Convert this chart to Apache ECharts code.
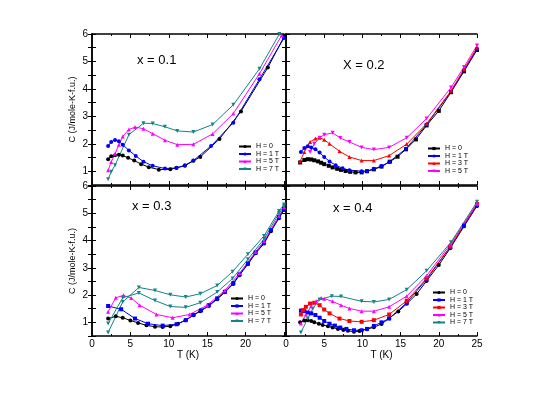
<!DOCTYPE html>
<html>
<head>
<meta charset="utf-8">
<script src="https://cdn.jsdelivr.net/npm/echarts@6/dist/echarts.min.js"></script>
<style>
html, body { margin: 0; padding: 0; background: #fff; }
#chart { width: 559px; height: 395px; }
</style>
</head>
<body>
<div id="chart"></div>
<script>
// ======================
// DATA  ([T (K), C (J/mole-K-f.u.)])
// ======================

const panelLabels = ['x = 0.1', 'X = 0.2', 'x = 0.3', 'x = 0.4'];
const xTickLabels = [0, 5, 10, 15, 20, 25];
const yTickLabels = [1, 2, 3, 4, 5, 6];

// x = 0.1
const x1_h0 = [[2.1,1.44],[2.5,1.55],[3.0,1.58],[3.5,1.6],[4.0,1.57],[4.7,1.49],[5.5,1.39],[6.4,1.26],[7.4,1.15],[8.7,1.06],[10.2,1.07],[11.0,1.13],[12.1,1.2],[13.2,1.38],[14.1,1.52],[16.6,2.18],[19.4,3.18],[22.9,4.78],[25.0,5.9]];
const x1_h1 = [[2.1,1.92],[2.5,2.07],[3.0,2.14],[3.5,2.09],[4.0,1.97],[4.8,1.76],[5.7,1.56],[6.7,1.35],[7.9,1.2],[9.5,1.1],[11.0,1.12],[12.1,1.22],[13.2,1.39],[15.5,1.92],[18.4,2.77],[21.8,4.35],[25.0,5.85]];
const x1_h5 = [[2.1,1.04],[2.5,1.34],[3.0,1.64],[3.5,1.97],[4.0,2.27],[4.8,2.52],[5.6,2.61],[6.7,2.55],[7.9,2.37],[9.5,2.13],[11.1,1.97],[13.2,1.98],[15.7,2.36],[18.4,3.1],[21.8,4.55],[24.7,5.95]];
const x1_h7 = [[2.1,0.71],[2.5,0.98],[3.0,1.22],[4.8,2.33],[6.7,2.75],[7.9,2.74],[9.5,2.62],[11.1,2.47],[13.2,2.43],[15.7,2.7],[18.4,3.42],[21.8,4.73],[24.4,6.0]];

// x = 0.2
const x2_h0 = [[1.85,1.32],[2.4,1.41],[2.85,1.44],[3.3,1.43],[3.7,1.4],[4.2,1.36],[4.6,1.31],[5.0,1.26],[5.6,1.2],[6.1,1.14],[6.7,1.09],[7.2,1.05],[7.8,1.01],[8.4,0.98],[9.1,0.96],[9.9,0.96],[10.6,1.0],[11.5,1.07],[12.5,1.17],[13.6,1.35],[14.6,1.53],[15.7,1.8],[17.0,2.16],[18.4,2.67],[20.0,3.2],[21.6,3.88],[23.3,4.64],[25.0,5.42]];
const x2_h1 = [[1.95,1.7],[2.4,1.85],[2.85,1.91],[3.3,1.87],[3.85,1.8],[4.4,1.68],[5.0,1.52],[5.7,1.36],[6.5,1.22],[7.4,1.11],[8.3,1.04],[9.9,1.0],[10.6,1.01],[11.5,1.09],[12.5,1.19],[13.5,1.34],[15.7,1.82],[18.4,2.7],[21.6,3.9],[23.3,4.67],[25.0,5.46]];
const x2_h3 = [[1.85,1.36],[2.4,1.7],[3.15,2.07],[3.85,2.19],[4.4,2.22],[5.0,2.15],[5.7,2.0],[7.0,1.73],[8.3,1.52],[9.9,1.39],[11.5,1.39],[13.5,1.57],[15.8,1.99],[18.4,2.73],[21.6,3.93],[23.3,4.72],[25.0,5.5]];
const x2_h5 = [[3.15,1.7],[3.7,2.0],[4.4,2.22],[5.0,2.33],[6.1,2.4],[7.1,2.21],[8.3,2.07],[9.9,1.87],[11.5,1.79],[13.5,1.87],[15.8,2.22],[18.4,2.92],[21.6,4.05],[23.3,4.8],[25.0,5.58]];

// x = 0.3
const x3_h0 = [[2.1,1.14],[3.1,1.22],[4.0,1.17],[5.0,1.07],[6.0,0.98],[7.1,0.89],[8.2,0.84],[9.2,0.83],[10.2,0.86],[11.2,0.95],[12.2,1.08],[13.2,1.26],[14.1,1.41],[15.2,1.6],[16.3,1.85],[17.3,2.1],[18.4,2.41],[19.2,2.73],[20.3,3.13],[21.3,3.53],[22.4,3.89],[23.3,4.34],[24.35,4.82],[25.0,5.12]];
const x3_h1 = [[2.1,1.6],[3.8,1.48],[5.6,1.14],[7.3,0.95],[9.2,0.88],[11.0,0.93],[12.2,1.08],[13.2,1.27],[14.2,1.44],[15.2,1.63],[16.3,1.88],[17.3,2.12],[18.4,2.44],[19.2,2.76],[20.3,3.16],[21.3,3.56],[22.4,3.92],[23.3,4.38],[24.35,4.86],[25.0,5.16]];
const x3_h5 = [[2.1,1.39],[3.1,1.9],[4.1,1.99],[5.1,1.89],[6.2,1.63],[8.4,1.29],[10.5,1.17],[12.7,1.29],[15.0,1.63],[17.3,2.17],[19.2,2.8],[21.3,3.58],[22.4,3.98],[24.35,4.9],[25.0,5.22]];
const x3_h7 = [[2.1,0.63],[4.0,1.75],[6.1,2.28],[8.2,2.17],[10.2,2.01],[12.2,1.93],[14.1,2.05],[16.3,2.35],[18.3,2.86],[20.3,3.5],[22.4,4.17],[24.35,5.08],[25.0,5.32]];
const x3_h7b = [[2.1,0.96],[4.0,1.9],[6.1,2.08],[8.2,1.8],[10.2,1.58],[12.2,1.55],[14.1,1.72],[16.3,2.11],[18.3,2.61],[20.3,3.31],[22.4,4.06],[24.35,5.0],[25.0,5.26]];

// x = 0.4
const x4_h0 = [[1.85,1.0],[2.4,1.07],[2.85,1.08],[3.3,1.05],[3.7,1.0],[4.3,0.95],[4.8,0.9],[5.5,0.86],[6.1,0.81],[6.8,0.76],[7.5,0.72],[8.1,0.69],[8.9,0.66],[9.6,0.68],[10.6,0.75],[11.5,0.82],[12.5,0.94],[13.5,1.15],[14.7,1.4],[15.8,1.68],[17.1,2.04],[18.4,2.52],[20.0,3.1],[21.5,3.72],[23.3,4.52],[25.0,5.27]];
const x4_h1 = [[1.95,1.43],[2.4,1.41],[2.85,1.36],[3.3,1.33],[3.85,1.27],[4.4,1.17],[5.0,1.05],[5.7,0.95],[6.4,0.88],[7.1,0.81],[7.9,0.76],[8.9,0.71],[9.9,0.71],[10.6,0.76],[11.5,0.87],[12.5,1.0],[13.5,1.14],[15.8,1.72],[18.4,2.58],[21.5,3.76],[23.3,4.55],[25.0,5.3]];
const x4_h3 = [[1.95,1.29],[2.2,1.45],[2.6,1.57],[3.15,1.69],[3.7,1.72],[4.4,1.63],[5.0,1.47],[5.7,1.33],[7.0,1.14],[8.3,1.05],[9.9,1.02],[11.5,1.08],[13.5,1.29],[15.8,1.79],[18.4,2.61],[21.5,3.78],[25.0,5.34]];
const x4_h5 = [[1.95,0.96],[2.6,1.29],[3.3,1.59],[3.95,1.77],[4.6,1.89],[5.0,1.87],[6.1,1.77],[7.2,1.63],[8.3,1.51],[9.9,1.41],[11.5,1.41],[13.5,1.57],[15.8,1.96],[18.4,2.71],[21.5,3.86],[25.0,5.36]];
const x4_h7 = [[1.95,0.63],[2.85,1.14],[3.5,1.5],[4.4,1.84],[6.0,1.96],[7.2,1.95],[9.9,1.77],[11.5,1.75],[13.5,1.84],[15.8,2.2],[18.4,2.89],[21.6,3.94],[25.0,5.42]];

// ======================
// STYLE
// ======================

const FONT = 'Liberation Sans, Arial, sans-serif';
const BLACK = '#000000', BLUE = '#0000ff', RED = '#ff0000', MAGENTA = '#ff00ff', TEAL = '#128585';

// [panel, label, data, color, symbol, rotate, inLegend]
const seriesDefs = [
    [0, 'H = 0',   x1_h0, BLACK,   'circle',   0,   true],
    [0, 'H = 1 T', x1_h1, BLUE,    'circle',   0,   true],
    [0, 'H = 5 T', x1_h5, MAGENTA, 'triangle', 0,   true],
    [0, 'H = 7 T', x1_h7, TEAL,    'triangle', 180, true],
    [1, 'H = 0',   x2_h0, BLACK,   'rect',     0,   true],
    [1, 'H = 1 T', x2_h1, BLUE,    'circle',   0,   true],
    [1, 'H = 3 T', x2_h3, RED,     'triangle', 0,   true],
    [1, 'H = 5 T', x2_h5, MAGENTA, 'triangle', 180, true],
    [2, 'H = 0',   x3_h0, BLACK,   'circle',   0,   true],
    [2, 'H = 1 T', x3_h1, BLUE,    'rect',     0,   true],
    [2, 'H = 5 T', x3_h5, MAGENTA, 'triangle', 0,   true],
    [2, 'H = 7 T', x3_h7, TEAL,    'triangle', 180, true],
    [2, 'H = 7 T b', x3_h7b, TEAL, 'triangle', 180, false],
    [3, 'H = 0',   x4_h0, BLACK,   'circle',   0,   true],
    [3, 'H = 1 T', x4_h1, BLUE,    'rect',     0,   true],
    [3, 'H = 3 T', x4_h3, RED,     'rect',     0,   true],
    [3, 'H = 5 T', x4_h5, MAGENTA, 'triangle', 0,   true],
    [3, 'H = 7 T', x4_h7, TEAL,    'triangle', 180, true],
];

const grids = [
    { left: 92,  top: 34,  width: 192, height: 151 },
    { left: 286, top: 34,  width: 191, height: 151 },
    { left: 92,  top: 186, width: 192, height: 150 },
    { left: 286, top: 186, width: 191, height: 150 },
];

const legendPos = [
    { left: 238, top: 143 },
    { left: 427, top: 145 },
    { left: 230, top: 295 },
    { left: 432, top: 289 },
];

const labelPos = [[137, 62], [343, 67], [132, 208], [333, 210]];

const axisLine = { show: true, lineStyle: { color: '#000', width: 1.5 } };
const tick = { show: true, inside: true, length: 4, lineStyle: { color: '#000', width: 1 } };

// ======================
// AXES
// ======================

function xAxisFor(i, mirror) {
    const showLabel = !mirror && i >= 2;
    return {
        type: 'value', gridIndex: i, min: 0, max: 25, interval: 5,
        position: mirror ? 'top' : 'bottom',
        axisLine, axisTick: tick,
        minorTick: { show: true, splitNumber: 2, length: 2, lineStyle: { color: '#000' } },
        splitLine: { show: false },
        axisLabel: {
            show: showLabel, color: '#000', fontSize: 10, fontFamily: FONT, margin: 3,
            formatter: v => (i === 2 && v === 25) ? '' : (xTickLabels.includes(v) ? String(v) : ''),
        },
        name: showLabel ? 'T (K)' : '',
        nameLocation: 'middle', nameGap: 14,
        nameTextStyle: { color: '#000', fontSize: 10, fontFamily: FONT },
    };
}

function yAxisFor(i, mirror) {
    const showLabel = !mirror && (i === 0 || i === 2);
    return {
        type: 'value', gridIndex: i, min: 0.5, max: 6, interval: 0.5,
        position: mirror ? 'right' : 'left',
        axisLine, axisTick: tick,
        splitLine: { show: false },
        axisLabel: {
            show: showLabel, color: '#000', fontSize: 10, fontFamily: FONT, margin: 4,
            formatter: v => yTickLabels.includes(v) ? String(v) : '',
        },
        name: showLabel ? 'C (J/mole-K-f.u.)' : '',
        nameLocation: 'middle', nameGap: 15,
        nameTextStyle: { color: '#000', fontSize: 9, fontFamily: FONT },
    };
}

// ======================
// BUILD
// ======================

const series = seriesDefs.map(([p, label, data, color, symbol, rotate]) => ({
    type: 'line',
    name: p + '|' + label,
    xAxisIndex: p, yAxisIndex: p,
    data,
    color,
    symbol, symbolRotate: rotate, symbolSize: 4,
    lineStyle: { color, width: 1 },
    itemStyle: { color },
    clip: true,
    animation: false,
}));

const legends = [0, 1, 2, 3].map(p => ({
    orient: 'vertical',
    left: legendPos[p].left, top: legendPos[p].top,
    padding: 0, itemGap: 0.5, itemWidth: 12, itemHeight: 4,
    textStyle: { color: '#000', fontSize: 7, fontFamily: FONT },
    formatter: n => n.split('|')[1],
    data: seriesDefs.filter(d => d[0] === p && d[6]).map(d => p + '|' + d[1]),
}));

const chart = echarts.init(document.getElementById('chart'), null, { renderer: 'canvas' });
chart.setOption({
    backgroundColor: '#fff',
    animation: false,
    grid: grids,
    xAxis: [0, 1, 2, 3].map(i => xAxisFor(i, false)).concat([0, 1, 2, 3].map(i => xAxisFor(i, true))),
    yAxis: [0, 1, 2, 3].map(i => yAxisFor(i, false)).concat([0, 1, 2, 3].map(i => yAxisFor(i, true))),
    legend: legends,
    series,
    graphic: panelLabels.map((t, i) => ({
        type: 'text', left: labelPos[i][0], top: labelPos[i][1] - 8,
        style: { text: t, fill: '#000', font: '13px ' + FONT },
    })),
});
</script>
</body>
</html>
